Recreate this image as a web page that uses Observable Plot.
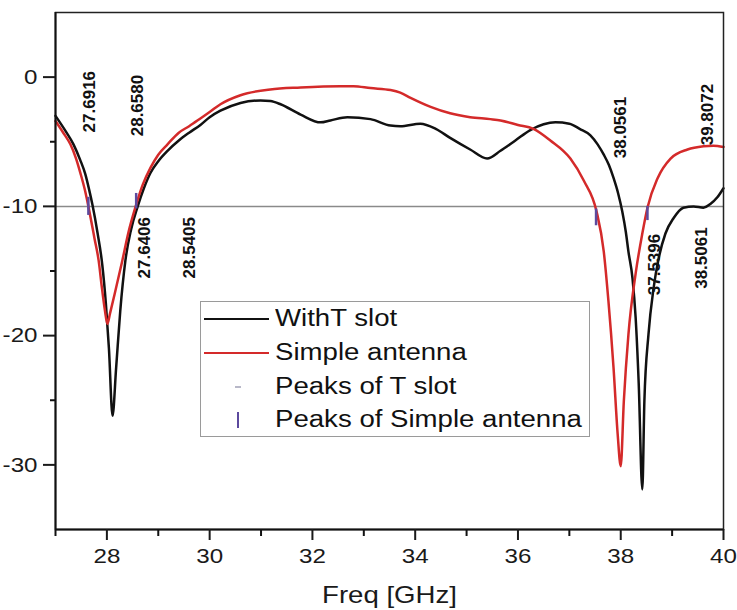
<!DOCTYPE html>
<html>
<head>
<meta charset="utf-8">
<script src="https://cdn.jsdelivr.net/npm/d3@7"></script>
<script src="https://cdn.jsdelivr.net/npm/@observablehq/plot@0.6"></script>
<style>
html, body { margin: 0; padding: 0; background: #fff; }
#wrap { position: relative; width: 737px; height: 610px; font-family: "Liberation Sans", Arial, sans-serif; }
#legend { position: absolute; left: 200px; top: 301px; width: 390px; height: 136px; border: 1.5px solid #9a9a9a; background: #fff; box-sizing: border-box; }
.sym { position: absolute; }
.lab { position: absolute; left: 74px; font-size: 23px; color: #111; white-space: nowrap; transform-origin: left center; line-height: 1; }
</style>
</head>
<body>
<div id="wrap"></div>
<script>
// ---- data ----
const tslotFreq = [27.00, 27.20, 27.35, 27.48, 27.58, 27.66, 27.72, 27.82, 27.91, 27.98, 28.04, 28.11, 28.18, 28.26, 28.36, 28.47, 28.60, 28.72, 28.85, 29.00, 29.18, 29.40, 29.60, 29.82, 30.00, 30.21, 30.60, 30.99, 31.18, 31.38, 31.77, 32.16, 32.35, 32.68, 33.13, 33.52, 33.71, 34.10, 34.40, 34.68, 35.07, 35.40, 35.66, 35.95, 36.24, 36.50, 36.73, 37.00, 37.20, 37.41, 37.55, 37.67, 37.77, 37.86, 37.95, 38.03, 38.10, 38.15, 38.23, 38.29, 38.35, 38.42, 38.46, 38.54, 38.64, 38.74, 38.87, 39.03, 39.22, 39.42, 39.61, 39.75, 39.88, 40.00];
const tslotDb   = [-3.0, -4.2, -5.2, -6.4, -7.5, -8.8, -9.9, -12.1, -14.5, -17.5, -21.0, -26.2, -22.5, -18.1, -14.2, -11.8, -10.0, -8.6, -7.4, -6.5, -5.7, -4.9, -4.3, -3.7, -3.1, -2.6, -2.0, -1.8, -1.85, -2.1, -2.9, -3.5, -3.35, -3.1, -3.25, -3.75, -3.8, -3.6, -4.0, -4.7, -5.6, -6.3, -5.7, -4.9, -4.1, -3.65, -3.5, -3.6, -4.0, -4.5, -5.2, -6.0, -6.8, -7.8, -9.0, -10.4, -12.0, -13.5, -15.6, -18.6, -23.7, -31.9, -25.1, -19.9, -16.3, -14.0, -12.1, -10.9, -10.1, -10.0, -10.1, -9.8, -9.3, -8.6];

const simpleFreq = [27.00, 27.15, 27.29, 27.40, 27.49, 27.57, 27.64, 27.76, 27.84, 27.90, 27.96, 28.01, 28.06, 28.15, 28.30, 28.42, 28.56, 28.70, 28.85, 29.00, 29.18, 29.40, 29.60, 29.82, 30.00, 30.21, 30.60, 31.18, 31.77, 32.54, 32.80, 33.13, 33.52, 33.71, 33.91, 34.30, 34.68, 35.07, 35.46, 35.66, 36.00, 36.30, 36.63, 37.02, 37.28, 37.53, 37.67, 37.76, 37.86, 37.94, 38.00, 38.06, 38.15, 38.29, 38.42, 38.52, 38.72, 38.97, 39.30, 39.61, 39.80, 40.00];
const simpleDb   = [-3.4, -4.3, -5.2, -6.3, -7.5, -8.7, -10.0, -12.5, -14.2, -16.2, -18.0, -19.1, -18.3, -16.8, -14.2, -12.0, -10.0, -8.3, -7.0, -6.0, -5.2, -4.3, -3.8, -3.2, -2.7, -2.1, -1.4, -0.95, -0.8, -0.7, -0.7, -0.85, -1.0, -1.2, -1.6, -2.3, -2.8, -3.1, -3.25, -3.35, -3.7, -4.0, -4.9, -6.3, -8.0, -10.4, -13.5, -17.3, -22.5, -27.6, -30.1, -25.1, -19.9, -15.2, -12.1, -10.1, -7.8, -6.3, -5.6, -5.35, -5.3, -5.4];

const peakFreq   = [27.64, 28.57, 37.52, 38.52];
const peakTop    = [-9.3, -9.0, -10.2, -10.0];
const peakBottom = [-10.7, -10.2, -11.5, -11.1];

const labelText = ["27.6916", "28.6580", "27.6406", "28.5405", "38.0561", "39.8072", "37.5396", "38.5061"];
const labelFreq = [27.66, 28.60, 28.73, 29.61, 38.00, 39.69, 38.65, 39.57];
const labelDb   = [-1.9, -2.2, -13.2, -13.2, -3.9, -2.9, -14.5, -14.0];

const xMajor = [28, 30, 32, 34, 36, 38, 40];
const xMinor = [27, 29, 31, 33, 35, 37, 39];
const yMajor = [0, -10, -20, -30];
const yMinor = [-5, -15, -25];
const refLevel = [-10];

const seriesNames = ["WithT slot", "Simple antenna", "Peaks of T slot", "Peaks of Simple antenna"];
const seriesColors = ["#111111", "#d42a2a", "#b8b8c8", "#5c4a9e"];
const xLabel = "Freq [GHz]";

// ---- tables ----
const tslot = tslotFreq.map((f, i) => ({f, db: tslotDb[i]}));
const simple = simpleFreq.map((f, i) => ({f, db: simpleDb[i]}));
const peaks = peakFreq.map((f, i) => ({f, y1: peakTop[i], y2: peakBottom[i]}));
const labels = labelText.map((t, i) => ({t, f: labelFreq[i], db: labelDb[i]}));

const fmt = d => (d < 0 ? "-" + Math.abs(d) : String(d));

const chart = Plot.plot({
  width: 737,
  height: 610,
  marginLeft: 55,
  marginRight: 14,
  marginTop: 12,
  marginBottom: 81,
  style: {fontFamily: "Liberation Sans, Arial, sans-serif", background: "#fff", color: "#111"},
  x: {domain: [27, 40]},
  y: {domain: [-35, 5]},
  marks: [
    Plot.ruleY(refLevel, {stroke: "#8a8a8a", strokeWidth: 1.5}),
    Plot.line(tslot, {x: "f", y: "db", stroke: seriesColors[0], strokeWidth: 2.5, curve: "monotone-x"}),
    Plot.line(simple, {x: "f", y: "db", stroke: seriesColors[1], strokeWidth: 2.5, curve: "monotone-x"}),
    Plot.ruleX(peaks, {x: "f", y1: "y1", y2: "y2", stroke: seriesColors[3], strokeWidth: 2.5}),
    Plot.text(labels, {x: "f", y: "db", text: "t", rotate: -90, fontSize: 17, fontWeight: "bold", fill: "#111"}),
    Plot.frame({stroke: "#222", strokeWidth: 1.5}),
    Plot.ruleX([27], {stroke: "#111", strokeWidth: 2}),
    Plot.ruleY([-35], {stroke: "#111", strokeWidth: 2}),
    Plot.axisY({ticks: yMajor, tickSize: 12, tickPadding: 6, fontSize: 21, tickFormat: fmt, label: null, strokeWidth: 2, color: "#1a1a1a"}),
    Plot.axisY({ticks: yMinor, tickSize: 5, text: null, label: null, strokeWidth: 2}),
    Plot.axisX({ticks: xMajor, tickSize: 11, tickPadding: 8, fontSize: 21, label: null, strokeWidth: 2, color: "#1a1a1a"}),
    Plot.axisX({ticks: xMinor, tickSize: 7, text: null, label: null, strokeWidth: 2}),
    Plot.text([xLabel], {frameAnchor: "bottom", lineAnchor: "middle", dy: 66, fontSize: 23, fill: "#1a1a1a"})
  ]
});

const wrap = document.getElementById("wrap");
wrap.appendChild(chart);

// the reference's text is slightly stretched horizontally
function stretch(sel, k) {
  sel.each(function () {
    const t = this.getAttribute("transform") || "";
    this.setAttribute("transform", t + ` scale(${k},1)`);
  });
}
const svg = d3.select(chart);
stretch(svg.selectAll("text").filter(function () { return this.textContent === xLabel; }), 1.2);
stretch(svg.selectAll('[aria-label="x-axis tick label"] text, [aria-label="y-axis tick label"] text'), 1.15);

// ---- legend (inside the frame) ----
const legend = document.createElement("div");
legend.id = "legend";
const rowY = [17, 51, 85, 118];
seriesNames.forEach((name, i) => {
  const s = document.createElement("div");
  s.className = "sym";
  if (i < 2) {
    Object.assign(s.style, {left: "3px", top: (rowY[i] - 1.25) + "px", width: "65px", height: "2.5px", background: seriesColors[i]});
  } else if (i === 2) {
    Object.assign(s.style, {left: "34px", top: (rowY[i] - 1) + "px", width: "6px", height: "2px", background: seriesColors[i]});
  } else {
    Object.assign(s.style, {left: "36px", top: (rowY[i] - 8) + "px", width: "2px", height: "16px", background: seriesColors[i]});
  }
  legend.appendChild(s);
  const l = document.createElement("div");
  l.className = "lab";
  l.textContent = name;
  l.style.top = (rowY[i] - 12) + "px";
  l.style.transform = "scaleX(1.2)";
  legend.appendChild(l);
});
wrap.appendChild(legend);
</script>
</body>
</html>
